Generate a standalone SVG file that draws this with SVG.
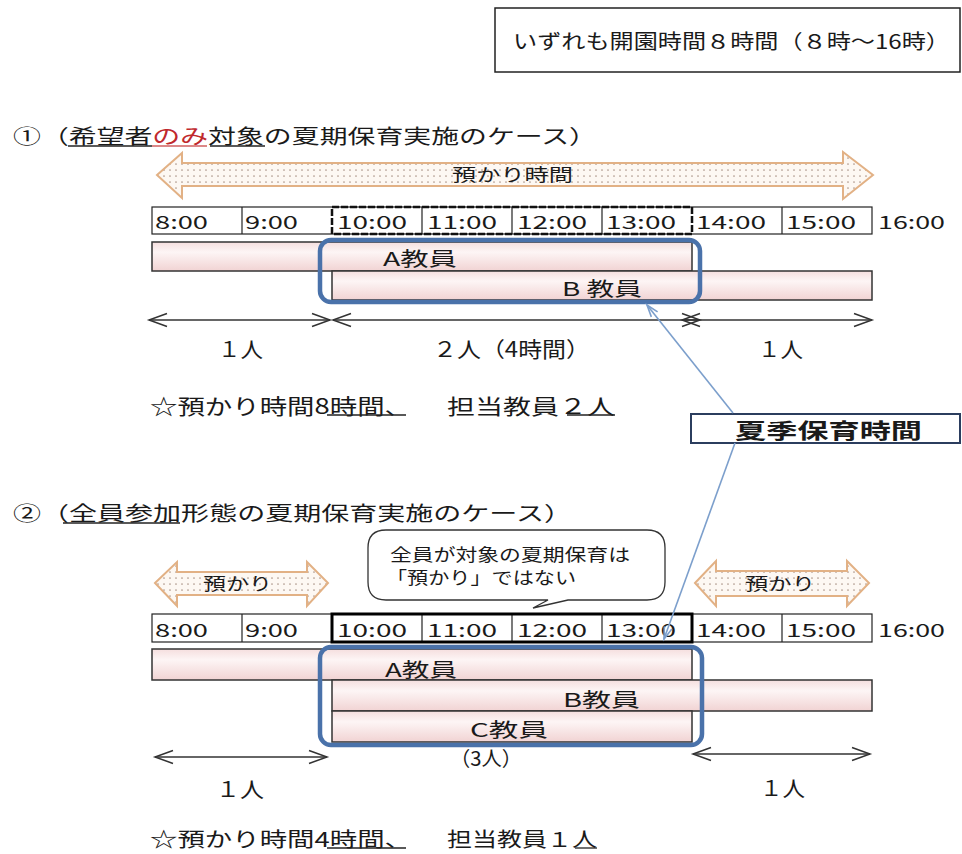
<svg xmlns="http://www.w3.org/2000/svg" width="962" height="854" viewBox="0 0 962 854">
<style>
text{font-family:"Noto Sans CJK JP","Noto Sans",sans-serif;fill:#1a1a1a;dominant-baseline:central}
.t{font-size:18px}
.bar{fill:url(#pinkg);stroke:#333;stroke-width:1.5}
.cell{fill:#fff;stroke:#222;stroke-width:1.2}
.blue{fill:none;stroke:#4a72aa;stroke-width:4.5}
.dbl{fill:url(#dots);stroke:#e2b185;stroke-width:2}
.ar{fill:none;stroke:#333;stroke-width:1.4}
.ul{stroke:#222;stroke-width:1.3}
.conn{stroke:#7c9fcc;stroke-width:1.6;fill:none}
</style>
<defs>
<linearGradient id="pinkg" x1="0" y1="0" x2="0" y2="1">
<stop offset="0" stop-color="#f5dede"/><stop offset="0.35" stop-color="#fdf5f5"/><stop offset="1" stop-color="#f1d3d3"/>
</linearGradient>
<pattern id="dots" width="6" height="6" patternUnits="userSpaceOnUse">
<rect width="6" height="6" fill="#fdf8f3"/><circle cx="2" cy="2" r="0.85" fill="#ad978a"/>
</pattern>
<marker id="open" viewBox="0 0 18 13" refX="18" refY="6.5" markerWidth="18" markerHeight="13" markerUnits="userSpaceOnUse" orient="auto-start-reverse" overflow="visible">
<path d="M0,0 L18,6.5 L0,13" fill="none" stroke="#333" stroke-width="1.5"/>
</marker>
<marker id="bh" viewBox="0 0 12 8" refX="12" refY="4" markerWidth="12" markerHeight="8" markerUnits="userSpaceOnUse" orient="auto" overflow="visible">
<path d="M0,0 L12,4 L0,8" fill="none" stroke="#7c9fcc" stroke-width="1.6"/>
</marker>
</defs>
<rect width="962" height="854" fill="#fff"/>

<g id="note">
<rect x="495" y="8" width="465" height="64" fill="#fff" stroke="#222" stroke-width="1.5"/>
<text x="513" y="40" font-size="20" textLength="437" lengthAdjust="spacingAndGlyphs">いずれも開園時間８時間（８時〜16時）</text>
</g>

<!-- Section 1 -->
<g id="title1">
<text x="13" y="135" font-size="20" textLength="584" lengthAdjust="spacingAndGlyphs">①（希望者<tspan style="fill:#c0282d">のみ</tspan>対象の夏期保育実施のケース）</text>
<line class="ul" x1="68" y1="146" x2="152" y2="146"/>
<line x1="152" y1="146" x2="207" y2="146" stroke="#d06060" stroke-width="1.3"/>
<line class="ul" x1="210" y1="146" x2="265" y2="146"/>
</g>

<g id="azukari1">
<path class="dbl" d="M157,175 L182,153 L182,163 L843,163 L843,152 L873,175 L843,199 L843,186 L182,186 L182,198 Z"/>
<text x="452" y="173" font-size="17" textLength="121" lengthAdjust="spacingAndGlyphs">預かり時間</text>
</g>

<g id="timeline1">
<rect class="cell" x="152" y="207" width="720" height="27"/>
<line class="cell" x1="242" y1="207" x2="242" y2="234"/>
<line class="cell" x1="422" y1="207" x2="422" y2="234"/>
<line class="cell" x1="512" y1="207" x2="512" y2="234"/>
<line class="cell" x1="602" y1="207" x2="602" y2="234"/>
<line class="cell" x1="782" y1="207" x2="782" y2="234"/>
<rect x="332" y="207" width="360" height="27" fill="none" stroke="#111" stroke-width="2.5" stroke-dasharray="7 2"/>
<text class="t" x="155" y="221" textLength="53" lengthAdjust="spacingAndGlyphs">8:00</text>
<text class="t" x="245" y="221" textLength="53" lengthAdjust="spacingAndGlyphs">9:00</text>
<text class="t" x="337" y="221" textLength="70" lengthAdjust="spacingAndGlyphs">10:00</text>
<text class="t" x="427" y="221" textLength="70" lengthAdjust="spacingAndGlyphs">11:00</text>
<text class="t" x="517" y="221" textLength="70" lengthAdjust="spacingAndGlyphs">12:00</text>
<text class="t" x="606" y="221" textLength="70" lengthAdjust="spacingAndGlyphs">13:00</text>
<text class="t" x="696" y="221" textLength="70" lengthAdjust="spacingAndGlyphs">14:00</text>
<text class="t" x="786" y="221" textLength="70" lengthAdjust="spacingAndGlyphs">15:00</text>
<text class="t" x="878" y="221" textLength="67" lengthAdjust="spacingAndGlyphs">16:00</text>
</g>

<g id="teacherA1">
<rect class="bar" x="152" y="242" width="540" height="29"/>
<text x="383" y="257" font-size="19" textLength="74" lengthAdjust="spacingAndGlyphs">A教員</text>
</g>
<g id="teacherB1">
<rect class="bar" x="332" y="271" width="540" height="29"/>
<text x="562" y="287" font-size="19" textLength="80" lengthAdjust="spacingAndGlyphs">B 教員</text>
</g>
<g id="summer1">
<rect class="blue" x="320" y="240" width="380" height="62" rx="11"/>
</g>

<g id="span1">
<text x="218" y="348" font-size="21" textLength="45" lengthAdjust="spacingAndGlyphs">１人</text>
<text x="433" y="348" font-size="21" textLength="157" lengthAdjust="spacingAndGlyphs">２人（4時間）</text>
<text x="758" y="348" font-size="21" textLength="45" lengthAdjust="spacingAndGlyphs">１人</text>
</g>

<g id="summary1">
<text x="150" y="405" font-size="21" textLength="262" lengthAdjust="spacingAndGlyphs">☆預かり時間8時間、</text>
<text x="447" y="405" font-size="21" textLength="168" lengthAdjust="spacingAndGlyphs">担当教員２人</text>
<line class="ul" x1="327" y1="415" x2="406" y2="415"/>
<line class="ul" x1="567" y1="415" x2="615" y2="415"/>
</g>

<g id="label">
<rect x="691" y="414" width="269" height="29" fill="#fff" stroke="#2b3d5e" stroke-width="2"/>
<text x="735" y="429" font-size="21" font-weight="bold" textLength="187" lengthAdjust="spacingAndGlyphs">夏季保育時間</text>
</g>

<!-- Section 2 -->
<g id="title2">
<text x="13" y="512" font-size="20" textLength="559" lengthAdjust="spacingAndGlyphs">②（全員参加形態の夏期保育実施のケース）</text>
<line class="ul" x1="63" y1="523" x2="180" y2="523"/>
</g>

<g id="callout">
<path d="M386,530 L647,530 Q665,530 665,548 L665,582 Q665,600 647,600 L568,600 L533,608 L548,600 L386,600 Q368,600 368,582 L368,548 Q368,530 386,530 Z" fill="#fff" stroke="#333" stroke-width="1.3"/>
<text x="390" y="553" font-size="17" textLength="240" lengthAdjust="spacingAndGlyphs">全員が対象の夏期保育は</text>
<text x="386" y="576" font-size="17" textLength="190" lengthAdjust="spacingAndGlyphs">「預かり」ではない</text>
</g>

<g id="azukari2a">
<path class="dbl" d="M155,583 L177,562 L177,572 L307,572 L307,562 L328,583 L307,606 L307,595 L177,595 L177,606 Z"/>
<text x="203" y="582" font-size="17" textLength="69" lengthAdjust="spacingAndGlyphs">預かり</text>
</g>
<g id="azukari2b">
<path class="dbl" d="M695,583 L716,561 L716,571 L847,571 L847,561 L869,583 L847,606 L847,596 L716,596 L716,606 Z"/>
<text x="745" y="582" font-size="17" textLength="70" lengthAdjust="spacingAndGlyphs">預かり</text>
</g>

<g id="timeline2">
<rect class="cell" x="152" y="614" width="720" height="28"/>
<line class="cell" x1="242" y1="614" x2="242" y2="642"/>
<line class="cell" x1="422" y1="614" x2="422" y2="642"/>
<line class="cell" x1="512" y1="614" x2="512" y2="642"/>
<line class="cell" x1="602" y1="614" x2="602" y2="642"/>
<line class="cell" x1="782" y1="614" x2="782" y2="642"/>
<rect x="332" y="614" width="360" height="28" fill="none" stroke="#000" stroke-width="3"/>
<text class="t" x="155" y="629" textLength="53" lengthAdjust="spacingAndGlyphs">8:00</text>
<text class="t" x="245" y="629" textLength="53" lengthAdjust="spacingAndGlyphs">9:00</text>
<text class="t" x="337" y="629" textLength="70" lengthAdjust="spacingAndGlyphs">10:00</text>
<text class="t" x="427" y="629" textLength="70" lengthAdjust="spacingAndGlyphs">11:00</text>
<text class="t" x="517" y="629" textLength="70" lengthAdjust="spacingAndGlyphs">12:00</text>
<text class="t" x="606" y="629" textLength="70" lengthAdjust="spacingAndGlyphs">13:00</text>
<text class="t" x="696" y="629" textLength="70" lengthAdjust="spacingAndGlyphs">14:00</text>
<text class="t" x="786" y="629" textLength="70" lengthAdjust="spacingAndGlyphs">15:00</text>
<text class="t" x="878" y="629" textLength="67" lengthAdjust="spacingAndGlyphs">16:00</text>
</g>

<g id="teacherA2">
<rect class="bar" x="152" y="649" width="540" height="31"/>
<text x="385" y="668" font-size="19" textLength="72" lengthAdjust="spacingAndGlyphs">A教員</text>
</g>
<g id="teacherB2">
<rect class="bar" x="332" y="680" width="540" height="31"/>
<text x="563" y="698" font-size="19" textLength="77" lengthAdjust="spacingAndGlyphs">B教員</text>
</g>
<g id="teacherC2">
<rect class="bar" x="332" y="711" width="360" height="31"/>
<text x="470" y="728" font-size="19" textLength="78" lengthAdjust="spacingAndGlyphs">C教員</text>
</g>
<g id="summer2">
<rect class="blue" x="320" y="647" width="382" height="98" rx="11"/>
</g>

<g id="span2">
<text x="450" y="757" font-size="20" textLength="72" lengthAdjust="spacingAndGlyphs">（3人）</text>
<text x="216" y="788" font-size="21" textLength="48" lengthAdjust="spacingAndGlyphs">１人</text>
<text x="760" y="787" font-size="21" textLength="45" lengthAdjust="spacingAndGlyphs">１人</text>
</g>

<g id="summary2">
<text x="150" y="838" font-size="20" textLength="262" lengthAdjust="spacingAndGlyphs">☆預かり時間4時間、</text>
<text x="447" y="838" font-size="20" textLength="150" lengthAdjust="spacingAndGlyphs">担当教員１人</text>
<line class="ul" x1="327" y1="848" x2="406" y2="848"/>
<line class="ul" x1="575" y1="848" x2="597" y2="848"/>
</g>

<g id="connectors">
<line class="ar" x1="149" y1="320" x2="330" y2="320" marker-start="url(#open)" marker-end="url(#open)"/>
<line class="ar" x1="333" y1="320" x2="700" y2="320" marker-start="url(#open)" marker-end="url(#open)"/>
<line class="ar" x1="682" y1="320" x2="872" y2="320" marker-start="url(#open)" marker-end="url(#open)"/>
<line class="ar" x1="155" y1="757" x2="327" y2="757" marker-start="url(#open)" marker-end="url(#open)"/>
<line class="ar" x1="693" y1="754" x2="870" y2="754" marker-start="url(#open)" marker-end="url(#open)"/>
<line class="conn" x1="733" y1="413" x2="647" y2="305" marker-end="url(#bh)"/>
<line class="conn" x1="735" y1="443" x2="664" y2="639" marker-end="url(#bh)"/>
</g>
</svg>
